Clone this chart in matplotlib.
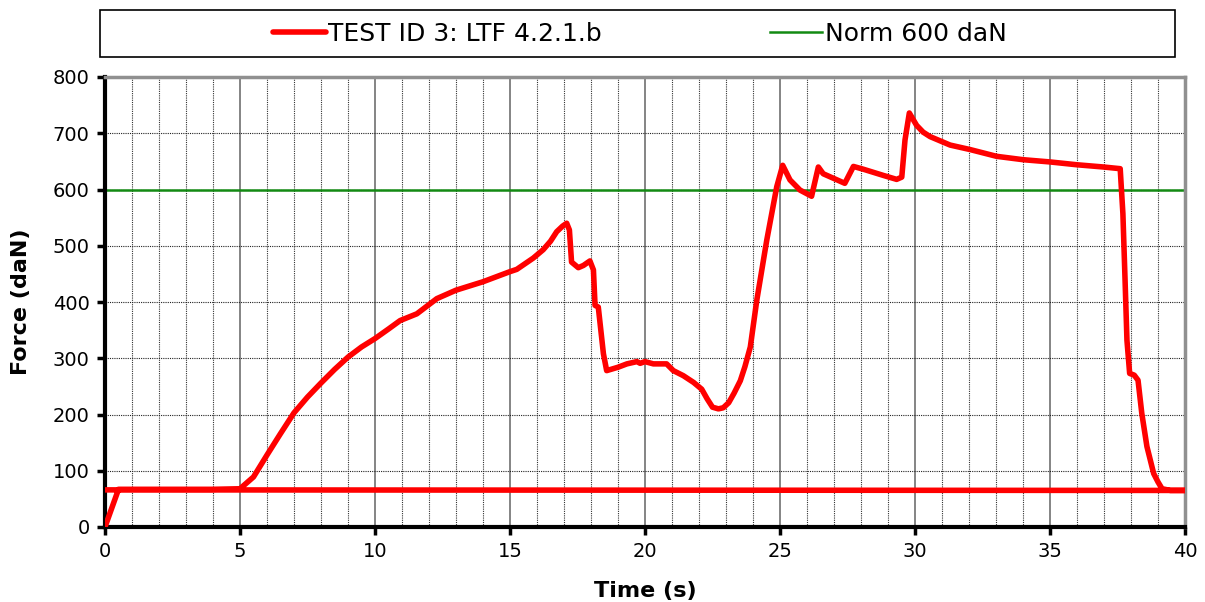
import matplotlib
matplotlib.use("Agg")
import matplotlib.pyplot as plt
from matplotlib.patches import Rectangle
from matplotlib.ticker import MultipleLocator

# ---- data ----
time_s = [0.0, 0.5, 2.0, 4.0, 5.0, 5.5, 6.0, 6.5, 7.0, 7.5, 8.0, 8.5, 9.0, 9.5,
          10.0, 10.5, 10.93, 11.55,
          12.29, 13.0, 14.0, 15.0, 15.25, 15.86, 16.23, 16.5, 16.73, 16.95, 17.1, 17.2, 17.28,
          17.53, 17.72, 17.96, 18.09, 18.15, 18.27, 18.46, 18.58, 19.0, 19.33, 19.7,
          19.82, 20.0, 20.31, 20.8, 21.05, 21.42, 21.8, 22.1, 22.3, 22.5, 22.72, 22.9, 23.1,
          23.3, 23.53, 23.7, 23.9, 24.14, 24.51, 24.88, 25.1, 25.37, 25.74, 26.17, 26.42,
          26.6, 27.4, 27.72, 28.09, 28.83, 29.32, 29.51, 29.63, 29.79, 30.06,
          30.3, 30.56, 31.3, 32.04, 33.02, 34.0, 35.0, 35.99, 36.98, 37.6, 37.7, 37.78,
          37.85, 37.95, 38.12, 38.26, 38.4, 38.59, 38.84, 39.0, 39.15, 39.46, 40.0, 0.0]
force_daN = [0, 67, 67, 67, 68, 89, 128, 166, 203, 231, 256, 280, 302, 320,
             335, 352, 367, 379,
             406, 421, 436, 454, 458, 478, 493, 508, 525, 535, 540, 528, 471,
             461, 465, 473, 457, 394, 391, 308, 278, 284, 290, 294,
             291, 294, 290, 290, 278, 269, 257, 245, 228, 213, 210, 212, 221,
             238, 260, 285, 320, 403, 510, 605, 643, 617, 599, 588, 640,
             628, 611, 641, 636, 625, 618, 622, 688, 736, 714,
             702, 694, 679, 671, 659, 653, 649, 644, 640, 637, 557, 439,
             332, 273, 270, 261, 202, 143, 95, 80, 68, 65, 65, 66]
norm_x = [0, 40]
norm_y = [600, 600]

series_label = "TEST ID 3: LTF 4.2.1.b"
norm_label = "Norm 600 daN"
x_ticks = [0, 5, 10, 15, 20, 25, 30, 35, 40]
y_ticks = [0, 100, 200, 300, 400, 500, 600, 700, 800]

plt.rcParams['font.family'] = ['DejaVu Sans']

fig = plt.figure(figsize=(12.05, 6.02), dpi=100)
ax = fig.add_axes([105/1205, 75/602, 1080/1205, 450/602])

ax.set_xlim(0, 40)
ax.set_ylim(0, 800)
ax.set_xticks(x_ticks)
ax.set_yticks(y_ticks)
ax.xaxis.set_minor_locator(MultipleLocator(1))

# grids
ax.grid(which='minor', axis='x', color='#333333', linestyle=(0, (1, 1)), linewidth=0.8)
ax.grid(which='major', axis='x', color='#707070', linestyle='-', linewidth=1.2)
ax.grid(which='major', axis='y', color='#222222', linestyle=(0, (1, 1)), linewidth=0.8)
ax.set_axisbelow(True)

l1, = ax.plot(time_s, force_daN, color='#ff0000', linewidth=4.0,
              solid_joinstyle='round', solid_capstyle='round', label=series_label, zorder=3)
l2, = ax.plot(norm_x, norm_y, color='#138a13', linewidth=1.8, label=norm_label, zorder=2)

for s in ['left', 'bottom']:
    ax.spines[s].set_color('black')
    ax.spines[s].set_linewidth(3)
for s in ['top', 'right']:
    ax.spines[s].set_color('#909090')
    ax.spines[s].set_linewidth(2.5)

ax.tick_params(which='major', direction='out', length=6, width=2.5, color='black',
               labelsize=14, pad=5)
ax.tick_params(which='minor', length=0)

ax.set_xlabel('Time (s)', fontsize=16, fontweight='bold', labelpad=14)
ax.set_ylabel('Force (daN)', fontsize=16, fontweight='bold', labelpad=16)

# legend box
fig.patches.append(Rectangle((100/1205, 1 - 57/602), 1075/1205, 47/602,
                             transform=fig.transFigure, facecolor='white',
                             edgecolor='black', linewidth=1.2))
leg = fig.legend(handles=[l1, l2], labels=[series_label, norm_label],
                 loc='center', bbox_to_anchor=(640/1205, 1 - 34/602), ncol=2,
                 frameon=False, fontsize=18, handlelength=2.1, handletextpad=0.1,
                 columnspacing=6.7)

fig.savefig('out.png', dpi=100)
